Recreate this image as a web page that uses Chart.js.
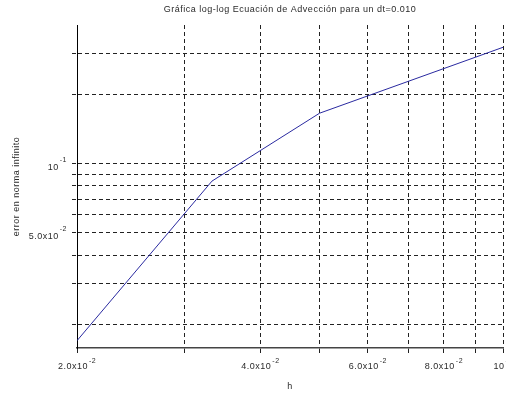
<!DOCTYPE html>
<html>
<head>
<meta charset="utf-8">
<script src="https://cdn.jsdelivr.net/npm/chart.js@4/dist/chart.umd.min.js"></script>
<style>
html,body{margin:0;padding:0;background:#fff;}
canvas{display:block;background:#fff;}
</style>
</head>
<body>
<canvas id="c" width="506" height="394"></canvas>
<script>
// Data
const hValues = [0.02, 0.0333, 0.05, 0.1];
const errValues = [0.0170, 0.0839, 0.1655, 0.320];

// Grid tick positions
const xGridValues = [0.02, 0.03, 0.04, 0.05, 0.06, 0.07, 0.08, 0.09, 0.1];
const yGridValues = [0.02, 0.03, 0.04, 0.05, 0.06, 0.07, 0.08, 0.09, 0.1, 0.2, 0.3];

// Tick labels (mantissa + superscript exponent)
const xLabelValues = [0.02, 0.04, 0.06, 0.08, 0.1];
const xLabelMain = ['2.0x10', '4.0x10', '6.0x10', '8.0x10', '10'];
const xLabelExp = ['-2', '-2', '-2', '-2', '-1'];
const yLabelValues = [0.1, 0.05];
const yLabelMain = ['10', '5.0x10'];
const yLabelExp = ['-1', '-2'];

const titleText = 'Gráfica log-log Ecuación de Advección para un dt=0.010';
const xTitle = 'h';
const yTitle = 'error en norma infinito';

const FONT = '"Liberation Sans", Arial, sans-serif';
const TXT = '#2a2a2a';

const textPlugin = {
  id: 'texts',
  afterDraw(chart) {
    const ctx = chart.ctx;
    const xs = chart.scales.x, ys = chart.scales.y;
    const area = chart.chartArea;
    ctx.save();
    ctx.fillStyle = TXT;
    ctx.textBaseline = 'middle';
    ctx.letterSpacing = '0.5px';
    // title
    ctx.font = '9px ' + FONT;
    ctx.textAlign = 'center';
    ctx.fillText(titleText, (area.left + area.right) / 2, 10);
    // x title
    ctx.fillText(xTitle, (area.left + area.right) / 2, 387);
    // y title
    ctx.save();
    ctx.translate(17, (area.top + area.bottom) / 2);
    ctx.rotate(-Math.PI / 2);
    ctx.fillText(yTitle, 0, 0);
    ctx.restore();
    ctx.textAlign = 'left';
    // x tick labels
    xLabelValues.forEach((v, i) => {
      const px = xs.getPixelForValue(v);
      ctx.font = '9px ' + FONT;
      const w1 = ctx.measureText(xLabelMain[i]).width;
      ctx.font = '7px ' + FONT;
      const w2 = ctx.measureText(xLabelExp[i]).width;
      const x0 = px - (w1 + w2 + 1) / 2;
      ctx.font = '9px ' + FONT;
      ctx.fillText(xLabelMain[i], x0, 367);
      ctx.font = '7px ' + FONT;
      ctx.fillText(xLabelExp[i], x0 + w1 + 1, 361);
    });
    // y tick labels
    yLabelValues.forEach((v, i) => {
      const py = ys.getPixelForValue(v);
      ctx.font = '9px ' + FONT;
      const w1 = ctx.measureText(yLabelMain[i]).width;
      ctx.font = '7px ' + FONT;
      const w2 = ctx.measureText(yLabelExp[i]).width;
      const right = area.left - 10;
      const x0 = right - (w1 + w2 + 1);
      ctx.font = '9px ' + FONT;
      ctx.fillText(yLabelMain[i], x0, py + 4);
      ctx.font = '7px ' + FONT;
      ctx.fillText(yLabelExp[i], x0 + w1 + 1, py - 4);
    });
    ctx.restore();
  }
};

new Chart(document.getElementById('c'), {
  type: 'line',
  data: {
    datasets: [{
      data: hValues.map((h, i) => ({ x: h, y: errValues[i] })),
      borderColor: '#2a2aa0',
      borderWidth: 1,
      pointRadius: 0,
      tension: 0,
      fill: false
    }]
  },
  options: {
    responsive: false,
    animation: false,
    layout: { padding: { top: 25, right: 3, left: 0, bottom: 0 } },
    plugins: { legend: { display: false }, tooltip: { enabled: false }, title: { display: false } },
    scales: {
      x: {
        type: 'logarithmic',
        min: 0.02,
        max: 0.1,
        afterBuildTicks: s => { s.ticks = xGridValues.map(v => ({ value: v })); },
        afterFit: s => { s.height = 46; },
        ticks: { display: false },
        grid: { color: '#222', lineWidth: 1, drawTicks: true, tickLength: 5, tickColor: '#222', tickBorderDash: [] },
        border: { display: true, color: '#444', width: 1.5, dash: [4, 3] }
      },
      y: {
        type: 'logarithmic',
        min: 0.0158,
        max: 0.4,
        afterBuildTicks: s => { s.ticks = yGridValues.map(v => ({ value: v })); },
        afterFit: s => { s.width = 77; },
        ticks: { display: false },
        grid: { color: '#222', lineWidth: 1, drawTicks: true, tickLength: 5, tickColor: '#222', tickBorderDash: [4, 3] },
        border: { display: true, color: '#000', width: 1, dash: [4, 3] }
      }
    }
  },
  plugins: [textPlugin]
});
</script>
</body>
</html>
